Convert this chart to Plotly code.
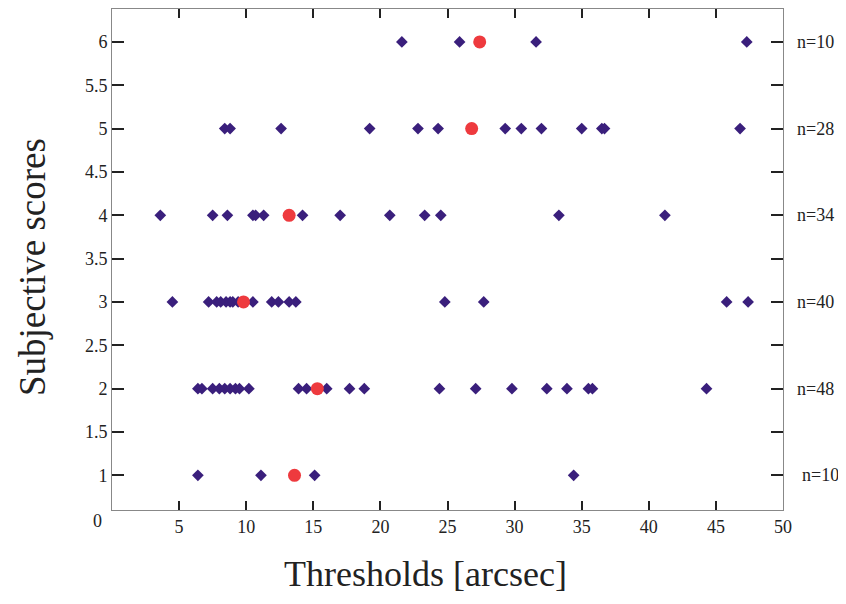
import plotly.graph_objects as go

# Individual thresholds per subjective score (blue diamonds)
score6_x = [21.6, 25.9, 31.6, 47.3]
score5_x = [8.4, 8.8, 12.6, 19.2, 22.8, 24.3, 29.3, 30.5, 32.0, 35.0, 36.5, 36.7, 46.8]
score4_x = [3.6, 7.5, 8.6, 10.5, 10.7, 11.3, 14.2, 17.0, 20.7, 23.3, 24.5, 33.3, 41.2]
score3_x = [4.5, 7.2, 7.8, 8.1, 8.5, 8.8, 9.0, 9.4, 10.5, 11.9, 12.4, 13.2, 13.7,
            24.8, 27.7, 45.8, 47.4]
score2_x = [6.4, 6.7, 7.5, 8.0, 8.4, 8.8, 9.2, 9.5, 10.2, 13.9, 14.5, 16.0, 17.7,
            18.8, 24.4, 27.1, 29.8, 32.4, 33.9, 35.5, 35.8, 44.3]
score1_x = [6.4, 11.1, 15.1, 34.4]

# Mean thresholds (red circles)
mean_scores = [6, 5, 4, 3, 2, 1]
mean_x = [27.4, 26.8, 13.2, 9.8, 15.3, 13.6]

# Sample counts shown on the right
n_scores = [6, 5, 4, 3, 2, 1]
n_labels = ["n=10", "n=28", "n=34", "n=40", "n=48", "n=10"]

ytick_vals = [1, 1.5, 2, 2.5, 3, 3.5, 4, 4.5, 5, 5.5, 6]
ytick_text = ["1", "1.5", "2", "2.5", "3", "3.5", "4", "4.5", "5", "5.5", "6"]
xtick_vals = [5, 10, 15, 20, 25, 30, 35, 40, 45, 50]

groups = [(6, score6_x), (5, score5_x), (4, score4_x), (3, score3_x), (2, score2_x), (1, score1_x)]
all_x, all_y = [], []
for s, xs in groups:
    all_x += xs
    all_y += [s] * len(xs)

SERIF = "Liberation Serif, Times New Roman, serif"
BLUE = "#3a1f7c"
RED = "#ee3a3e"

# page body has an 8px margin, so figure is 830x588 and offset by 8px
W, H = 830, 588
L, T, R, B = 104, 1, 55, 86
PW, PH = W - L - R, H - T - B


def px_x(px):  # absolute page pixel -> paper x
    return (px - 8 - L) / PW


def px_y(py):  # absolute page pixel -> paper y
    return (H - B - (py - 8)) / PH


fig = go.Figure()
fig.add_trace(go.Scatter(
    x=all_x, y=all_y, mode="markers",
    marker=dict(symbol="diamond", size=9, color=BLUE, line=dict(width=0)),
    showlegend=False, hoverinfo="x+y"))
fig.add_trace(go.Scatter(
    x=mean_x, y=mean_scores, mode="markers",
    marker=dict(symbol="circle", size=13, color=RED, line=dict(width=0)),
    showlegend=False, hoverinfo="x+y"))

annotations = []
for s, lab in zip(n_scores, n_labels):
    annotations.append(dict(
        x=px_x(820 if s == 1 else 815), xref="paper", y=s, yref="y",
        text=lab, showarrow=False, xanchor="center", yanchor="middle",
        font=dict(family=SERIF, size=18, color="#222")))
annotations.append(dict(x=px_x(97), y=px_y(521), xref="paper", yref="paper", text="0",
                        showarrow=False, xanchor="center", yanchor="middle",
                        font=dict(family=SERIF, size=18, color="#222")))
annotations.append(dict(x=px_x(425), y=px_y(574), xref="paper", yref="paper",
                        text="Thresholds [arcsec]", showarrow=False,
                        xanchor="center", yanchor="middle",
                        font=dict(family=SERIF, size=36, color="#222")))
annotations.append(dict(x=px_x(32), y=px_y(267), xref="paper", yref="paper",
                        text="Subjective scores", showarrow=False, textangle=-90,
                        xanchor="center", yanchor="middle",
                        font=dict(family=SERIF, size=37, color="#222")))

fig.update_layout(
    width=W, height=H,
    margin=dict(l=L, r=R, t=T, b=B, autoexpand=False),
    paper_bgcolor="white", plot_bgcolor="white",
    annotations=annotations,
    xaxis=dict(range=[0, 50], tickvals=xtick_vals, ticks="inside", ticklen=9,
               tickwidth=1.5, tickcolor="#222", showline=True, linecolor="#888",
               linewidth=1, mirror="ticks", showgrid=False, zeroline=False,
               tickfont=dict(family=SERIF, size=18, color="#222")),
    yaxis=dict(range=[0.6, 6.38], tickvals=ytick_vals, ticktext=ytick_text,
               ticks="inside", ticklen=12, tickwidth=2, tickcolor="#222",
               showline=True, linecolor="#888", linewidth=1, mirror="ticks",
               showgrid=False, zeroline=False,
               tickfont=dict(family=SERIF, size=18, color="#222")),
)

fig.write_html("out.html")
